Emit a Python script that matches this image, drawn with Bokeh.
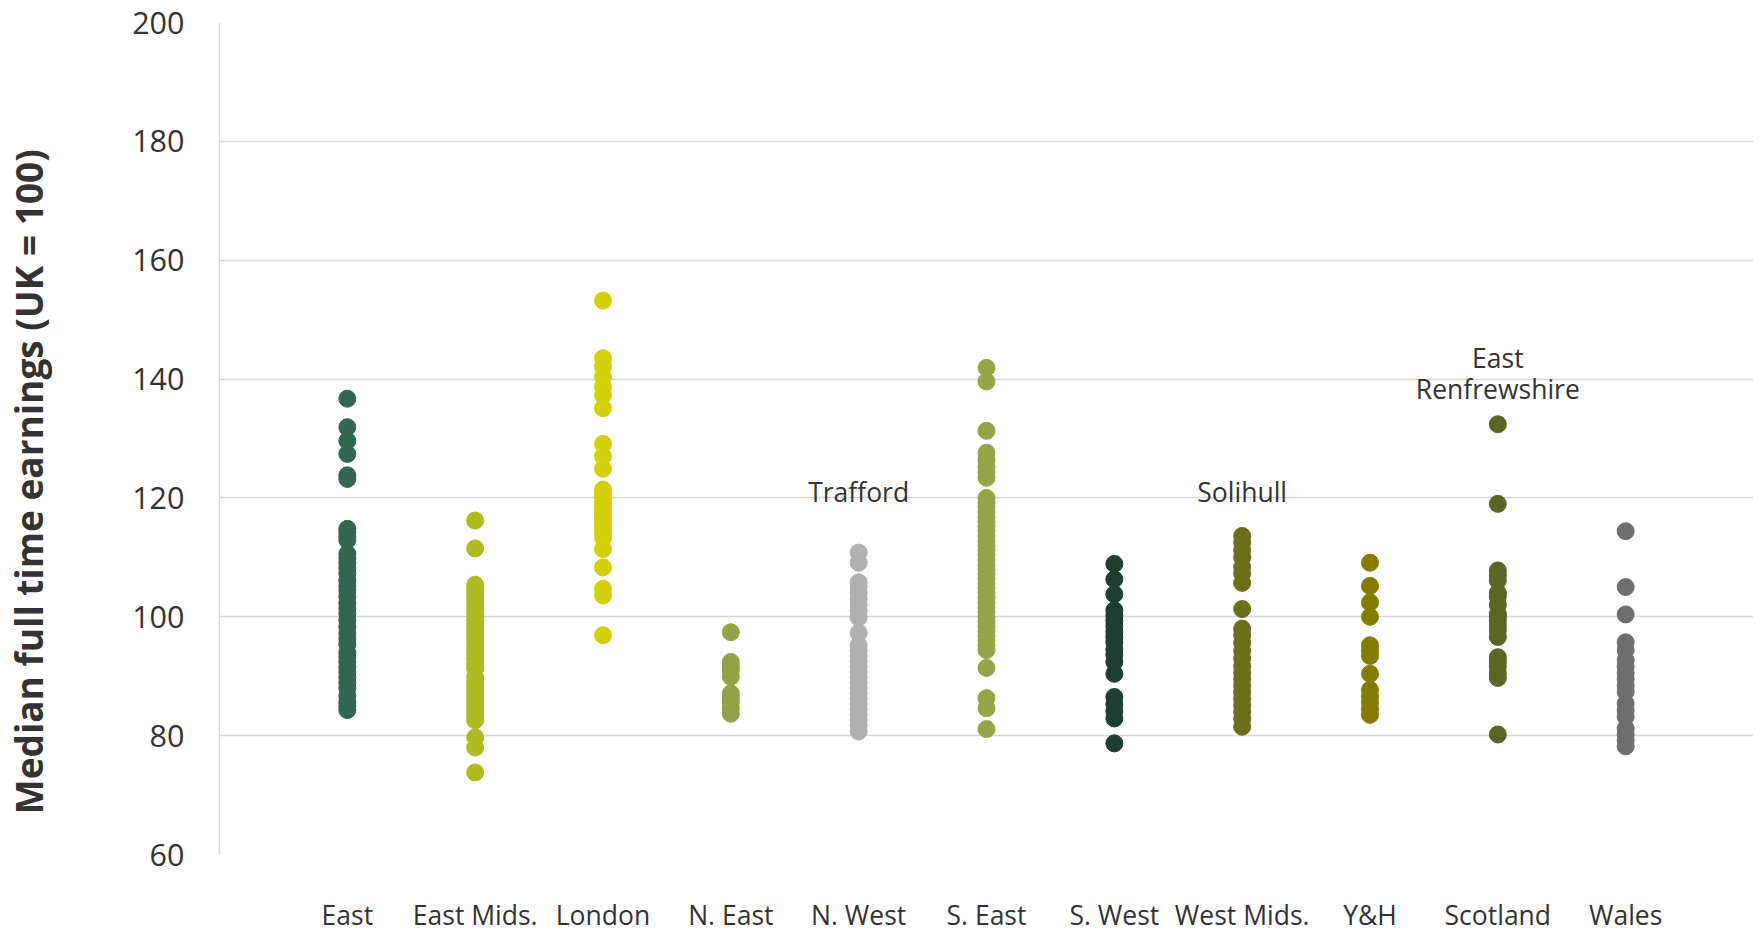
from bokeh.plotting import figure
from bokeh.models import ColumnDataSource, FixedTicker
from bokeh.core.properties import value
from bokeh.embed import file_html
from bokeh.resources import INLINE

regions = ["East", "East Mids.", "London", "N. East", "N. West", "S. East",
           "S. West", "West Mids.", "Y&H", "Scotland", "Wales"]
colors = ["#336750", "#aebb1f", "#d4cf08", "#94a342", "#b0b0b0", "#95a444",
          "#1f3f2e", "#6b7018", "#837c00", "#5c6428", "#6e6e6e"]

east = [136.7, 131.9, 129.6, 127.4, 123.8, 123.2, 114.8, 114.2, 113.5, 112.9, 110.6,
        109.8, 109.0, 108.2, 107.3, 106.1, 105.2, 104.4, 103.4, 102.3, 101.4, 100.5,
        99.4, 98.3, 97.2, 96.3, 95.4, 94.0, 93.2, 92.4, 91.5, 90.7, 89.8, 88.9, 88.0,
        86.7, 85.6, 84.9, 84.3]
east_mids = [116.2, 111.5, 105.4, 104.6, 103.8, 103.0, 102.1, 101.3, 100.5, 99.6, 98.8,
             98.0, 97.1, 96.3, 95.5, 94.6, 93.8, 93.0, 92.1, 91.3, 89.9, 89.0, 88.2,
             87.4, 86.6, 85.7, 84.9, 84.1, 83.3, 82.6, 79.7, 78.0, 73.8]
london = [153.2, 143.5, 142.1, 140.4, 138.7, 137.3, 135.1, 129.1, 127.0, 124.9, 121.4,
          120.6, 119.8, 119.0, 118.2, 117.4, 116.6, 115.8, 115.0, 114.2, 113.3, 111.4,
          108.3, 104.7, 103.6, 96.9]
n_east = [97.4, 92.4, 91.6, 91.0, 89.9, 87.1, 86.4, 85.7, 84.6, 83.7]
n_west = [110.8, 109.1, 105.8, 105.0, 104.0, 103.0, 102.0, 101.0, 99.9, 97.3, 95.2,
          94.3, 93.4, 92.5, 91.6, 90.7, 89.8, 88.9, 88.0, 87.1, 86.2, 85.3, 84.4, 83.5,
          82.6, 81.7, 80.7]
s_east = [141.9, 139.6, 131.3, 127.6, 126.4, 125.2, 124.3, 123.4, 120.0, 119.2, 118.4,
          117.6, 116.8, 116.0, 115.2, 114.4, 113.6, 112.8, 112.0, 111.2, 110.4, 109.6,
          108.8, 108.0, 107.2, 106.4, 105.6, 104.8, 104.0, 103.2, 102.4, 101.6, 100.8,
          100.0, 99.2, 98.4, 97.6, 96.8, 96.0, 95.2, 94.4, 91.4, 86.3, 84.6, 81.1]
s_west = [108.9, 106.3, 103.8, 101.1, 100.2, 99.3, 98.4, 97.5, 96.6, 95.7, 94.5, 93.6,
          92.4, 90.4, 86.5, 85.3, 84.1, 82.9, 78.7]
west_mids = [113.6, 112.5, 111.2, 110.0, 108.4, 107.3, 105.7, 101.3, 98.0, 96.9, 95.6,
             94.3, 93.0, 91.7, 90.6, 89.5, 88.4, 87.3, 86.2, 85.1, 84.0, 82.8, 81.5]
yh = [109.1, 105.2, 102.4, 100.0, 95.2, 94.3, 93.4, 90.4, 87.7, 86.6, 85.6, 84.5, 83.5]
scotland = [132.4, 119.0, 107.8, 107.0, 106.1, 104.0, 103.4, 102.0, 100.5, 100.0, 99.4,
            98.5, 97.7, 96.6, 93.2, 92.4, 91.6, 90.5, 89.7, 80.2]
wales = [114.4, 105.0, 100.4, 95.7, 94.4, 92.7, 91.6, 90.5, 89.5, 88.4, 87.4, 85.4,
         84.3, 83.2, 81.2, 80.2, 79.2, 78.2]

series = [east, east_mids, london, n_east, n_west, s_east, s_west, west_mids, yh,
          scotland, wales]

ann_text = ["Trafford", "Solihull", "East", "Renfrewshire"]
ann_region = ["N. West", "West Mids.", "Scotland", "Scotland"]
ann_y = [121.0, 121.0, 143.6, 138.3]

y_ticks = [60, 80, 100, 120, 140, 160, 180, 200]

xs, ys, cs = [], [], []
for i, vals in enumerate(series):
    for v in vals:
        xs.append(i + 1)
        ys.append(v)
        cs.append(colors[i])
src = ColumnDataSource(dict(x=xs, y=ys, c=cs))

p = figure(width=1753, height=935, x_range=(0, len(regions) + 1), y_range=(60, 200),
           output_backend="svg", toolbar_location=None,
           min_border_left=219, min_border_right=0, min_border_top=22, min_border_bottom=20)
p.outline_line_color = None
p.background_fill_color = "white"

p.scatter(x="x", y="y", color="c", size=17, source=src)

ann_x = [regions.index(r) + 1 for r in ann_region]
asrc = ColumnDataSource(dict(x=ann_x, y=ann_y, t=ann_text))
p.text(x="x", y="y", text="t", source=asrc, text_align="center", text_baseline="middle",
       text_font=value("Open Sans"), text_font_size="26.5px", text_color="#333333")

p.xgrid.grid_line_color = None
p.ygrid.grid_line_color = "#d9d9d9"
p.ygrid.grid_line_width = 1.5
p.ygrid.ticker = FixedTicker(ticks=y_ticks)

p.xaxis.ticker = FixedTicker(ticks=list(range(1, len(regions) + 1)))
p.xaxis.major_label_overrides = {i + 1: r for i, r in enumerate(regions)}
p.xaxis.axis_line_color = None
p.xaxis.major_tick_line_color = None
p.xaxis.minor_tick_line_color = None
p.xaxis.major_label_standoff = 36
p.xaxis.major_label_text_font = "Open Sans"
p.xaxis.major_label_text_font_size = "26.5px"
p.xaxis.major_label_text_color = "#333333"

p.yaxis.ticker = FixedTicker(ticks=y_ticks)
p.yaxis.axis_line_color = "#d9d9d9"
p.yaxis.axis_line_width = 1.5
p.yaxis.major_tick_line_color = None
p.yaxis.minor_tick_line_color = None
p.yaxis.major_label_standoff = 29
p.yaxis.major_label_text_font = "Open Sans"
p.yaxis.major_label_text_font_size = "30.5px"
p.yaxis.major_label_text_color = "#333333"
p.yaxis.axis_label = "Median full time earnings (UK = 100)" + "\u00a0" * 9
p.yaxis.axis_label_text_font = "Open Sans"
p.yaxis.axis_label_text_font_style = "bold"
p.yaxis.axis_label_text_font_size = "37px"
p.yaxis.axis_label_text_color = "#333333"
p.yaxis.axis_label_standoff = 75

open("out.html", "w").write(file_html(p, INLINE))
